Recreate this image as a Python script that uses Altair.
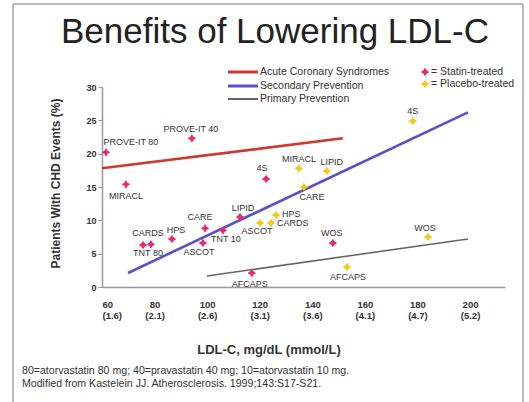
import altair as alt
import pandas as pd

# ---------------- data ----------------
statin_names = ["PROVE-IT 80", "PROVE-IT 40", "MIRACL", "4S", "LIPID", "CARE", "TNT 10",
                "AFCAPS", "ASCOT", "HPS", "CARDS", "TNT 80", "WOS"]
statin_ldl = [61.5, 94.2, 69.1, 122.4, 112.5, 99.2, 106.0, 117.0, 98.4, 86.6, 78.6, 75.6, 147.8]
statin_evt = [20.2, 22.3, 15.4, 16.2, 10.5, 8.8, 8.5, 2.1, 6.6, 7.2, 6.4, 6.3, 6.6]

placebo_names = ["4S", "MIRACL", "LIPID", "CARE", "HPS", "CARDS", "ASCOT", "WOS", "AFCAPS"]
placebo_ldl = [178.2, 134.9, 145.5, 136.8, 126.2, 124.3, 120.1, 184.0, 153.2]
placebo_evt = [24.9, 17.8, 17.4, 15.0, 10.8, 9.6, 9.6, 7.5, 3.0]

line_names = ["Acute Coronary Syndromes", "Secondary Prevention", "Primary Prevention"]
line_x0 = [60.0, 69.9, 99.9]
line_y0 = [17.8, 2.1, 1.65]
line_x1 = [151.6, 199.2, 199.2]
line_y1 = [22.3, 26.2, 7.2]

x_ticks = [60, 80, 100, 120, 140, 160, 180, 200]
x_ticks_mmol = ["(1.6)", "(2.1)", "(2.6)", "(3.1)", "(3.6)", "(4.1)", "(4.7)", "(5.2)"]
y_ticks = [0, 5, 10, 15, 20, 25, 30]

group_names = ["= Statin-treated", "= Placebo-treated"]

title_text = "Benefits of Lowering LDL-C"
x_title = "LDL-C, mg/dL (mmol/L)"
y_title = "Patients With CHD Events (%)"
foot_lines = ["80=atorvastatin 80 mg; 40=pravastatin 40 mg; 10=atorvastatin 10 mg.",
              "Modified from Kastelein JJ. Atherosclerosis. 1999;143:S17-S21."]

# ---------------- styles ----------------
FONT = "Liberation Sans"
PINK = "#ec2a6b"
YELLOW = "#f7c815"
LINE_COLORS = ["#cc3a2e", "#5d4fc8", "#666666"]
LINE_WIDTHS = [2.6, 2.6, 1.6]
STAR = "M0,-1L0.38,-0.38L1,0L0.38,0.38L0,1L-0.38,0.38L-1,0L-0.38,-0.38Z"

# label offsets (dx, dy, align) per point
statin_lab = [(25, -10, "center"), (-1, -9, "center"), (0, 12, "center"), (-4, -11, "center"),
              (3, -9, "center"), (-5, -11, "center"), (3, 9, "center"), (-2, 11, "center"),
              (-4, 9, "center"), (4, -9, "center"), (-3, -11, "center"), (5, 8, "center"),
              (-1, -10, "center")]
placebo_lab = [(0, -10, "center"), (0, -9, "center"), (5, -9, "center"), (8, 10, "center"),
               (6, -1, "left"), (6, 0, "left"), (-3, 8, "center"), (-3, -9, "center"),
               (1, 10, "center")]

# ---------------- scales ----------------
xs = alt.Scale(domain=[60, 213.3], nice=False, zero=False)
ys = alt.Scale(domain=[0, 30], nice=False, zero=True)

label_expr = ""
for v, m in zip(x_ticks, x_ticks_mmol):
    label_expr += f"datum.value == {v} ? ['{v}', '{m}'] : "
label_expr += "datum.label"

x_axis = alt.Axis(values=x_ticks, labelExpr=label_expr, ticks=False, grid=False,
                  domainColor="#999999", domainWidth=1.5, labelFont=FONT, labelFontSize=9.5,
                  labelFontWeight="bold", labelColor="#333333", labelPadding=12, labelLineHeight=11,
                  title=x_title, titleFont=FONT, titleFontSize=13, titleFontWeight="bold",
                  titleColor="#333333", titleX=166.5, titleY=62, titleBaseline="middle",
                  titleAlign="center", titleAnchor="start")
y_axis = alt.Axis(values=y_ticks, grid=False, domainColor="#999999", domainWidth=1.5,
                  tickColor="#999999", tickSize=4, labelFont=FONT, labelFontSize=9,
                  labelFontWeight="bold", labelColor="#333333", labelPadding=2,
                  title=y_title, titleFont=FONT, titleFontSize=12, titleFontWeight="bold",
                  titleColor="#333333", titleX=-47, titleY=96, titleBaseline="middle",
                  titleAlign="center", titleAnchor="start", titleAngle=270)


def X(field):
    return alt.X(field, scale=xs, axis=x_axis)


def Y(field):
    return alt.Y(field, scale=ys, axis=y_axis)


layers = []

# trend lines
for i, n in enumerate(line_names):
    df = pd.DataFrame({"x0": [line_x0[i]], "y0": [line_y0[i]], "x1": [line_x1[i]], "y1": [line_y1[i]]})
    layers.append(alt.Chart(df).mark_rule(color=LINE_COLORS[i], strokeWidth=LINE_WIDTHS[i]).encode(
        x=X("x0:Q"), x2="x1:Q", y=Y("y0:Q"), y2="y1:Q"))

# points
sdf = pd.DataFrame({"name": statin_names, "ldl": statin_ldl, "evt": statin_evt})
pdf = pd.DataFrame({"name": placebo_names, "ldl": placebo_ldl, "evt": placebo_evt})
for df, col in [(pdf, YELLOW), (sdf, PINK)]:
    layers.append(alt.Chart(df).mark_point(shape=STAR, filled=True, size=75, color=col, opacity=1).encode(
        x=X("ldl:Q"), y=Y("evt:Q")))

# point labels
for df, labs in [(sdf, statin_lab), (pdf, placebo_lab)]:
    for i in range(len(df)):
        dx, dy, al = labs[i]
        layers.append(alt.Chart(df.iloc[[i]]).mark_text(
            dx=dx, dy=dy, align=al, baseline="middle", font=FONT, fontSize=9,
            color="#333333").encode(x=X("ldl:Q"), y=Y("evt:Q"), text="name:N"))

# title
layers.append(alt.Chart(pd.DataFrame({"t": [title_text]})).mark_text(
    font=FONT, fontSize=35, color="#222222", align="center", baseline="alphabetic").encode(
    x=alt.value(173), y=alt.value(-44), text="t:N"))

# legend: lines
leg_y = [-15, -1, 12]
for i, n in enumerate(line_names):
    layers.append(alt.Chart(pd.DataFrame({"t": [n]})).mark_rule(
        color=LINE_COLORS[i], strokeWidth=LINE_WIDTHS[i] + 0.4).encode(
        x=alt.value(126), x2=alt.value(156), y=alt.value(leg_y[i])))
    layers.append(alt.Chart(pd.DataFrame({"t": [n]})).mark_text(
        font=FONT, fontSize=10.5, color="#333333", align="left", baseline="middle").encode(
        x=alt.value(158), y=alt.value(leg_y[i]), text="t:N"))

# legend: points
gleg_y = [-15, -3]
for i, (n, col) in enumerate(zip(group_names, [PINK, YELLOW])):
    layers.append(alt.Chart(pd.DataFrame({"t": [n]})).mark_point(
        shape=STAR, filled=True, size=75, color=col, opacity=1).encode(
        x=alt.value(323), y=alt.value(gleg_y[i])))
    layers.append(alt.Chart(pd.DataFrame({"t": [n]})).mark_text(
        font=FONT, fontSize=10.5, color="#333333", align="left", baseline="middle").encode(
        x=alt.value(329), y=alt.value(gleg_y[i]), text="t:N"))

# footnotes
foot_y = [284, 297]
for i, t in enumerate(foot_lines):
    layers.append(alt.Chart(pd.DataFrame({"t": [t]})).mark_text(
        font=FONT, fontSize=10.6, color="#333333", align="left", baseline="middle").encode(
        x=alt.value(-80), y=alt.value(foot_y[i]), text="t:N"))

# frame
frame = alt.Chart(pd.DataFrame({"t": [0]}))
layers.append(frame.mark_rule(color="#bbbbbb", strokeWidth=2).encode(
    x=alt.value(-89), y=alt.value(-83), y2=alt.value(315)))
layers.append(frame.mark_rule(color="#bbbbbb", strokeWidth=2).encode(
    x=alt.value(421), y=alt.value(-83), y2=alt.value(315)))
layers.append(frame.mark_rule(color="#bbbbbb", strokeWidth=2).encode(
    x=alt.value(-89), x2=alt.value(421), y=alt.value(-83)))

chart = alt.layer(*layers).properties(
    width=403, height=200,
    padding={"left": 102, "top": 87, "right": 24, "bottom": 115},
    autosize=alt.AutoSizeParams(type="none"),
    background="white",
).configure_view(stroke=None)

chart.save("out.html", embed_options={"renderer": "svg", "actions": False})
